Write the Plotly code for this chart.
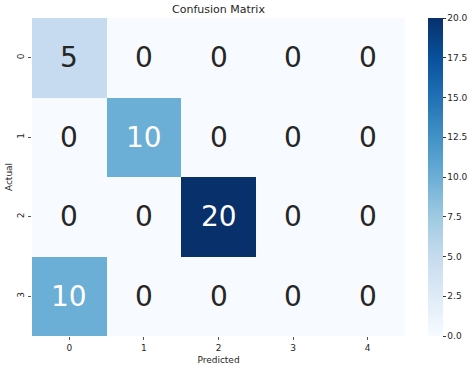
import plotly.graph_objects as go

actual_labels = ["0", "1", "2", "3"]
predicted_labels = ["0", "1", "2", "3", "4"]
matrix = [
    [5, 0, 0, 0, 0],
    [0, 10, 0, 0, 0],
    [0, 0, 20, 0, 0],
    [10, 0, 0, 0, 0],
]
cbar_ticks = [0.0, 2.5, 5.0, 7.5, 10.0, 12.5, 15.0, 17.5, 20.0]

blues = ["rgb(247,251,255)", "rgb(222,235,247)", "rgb(198,219,239)", "rgb(158,202,225)",
         "rgb(107,174,214)", "rgb(66,146,198)", "rgb(33,113,181)", "rgb(8,81,156)", "rgb(8,48,107)"]
cs = [[i / (len(blues) - 1), c] for i, c in enumerate(blues)]

xs = list(range(len(predicted_labels)))
ys = list(range(len(actual_labels)))

fig = go.Figure(go.Heatmap(
    z=matrix, x=xs, y=ys, zmin=0, zmax=20, colorscale=cs,
    colorbar=dict(
        x=1.0617, xanchor="left", y=0.5, yanchor="middle", len=1.0, lenmode="fraction",
        thickness=15, outlinewidth=0, xpad=0, ypad=0, tickvals=cbar_ticks,
        ticktext=[f"{v:.1f}" for v in cbar_ticks], ticks="outside", ticklen=3,
        tickcolor="#333", tickfont=dict(family="DejaVu Sans", size=9, color="#262626"),
    ),
    hoverinfo="skip",
))

for r, row in enumerate(matrix):
    for c, v in enumerate(row):
        fig.add_annotation(
            x=c, y=r, text=str(v), showarrow=False,
            font=dict(family="DejaVu Sans", size=28, color="white" if v >= 10 else "#262626"),
        )

fig.update_layout(
    width=474, height=368,
    margin=dict(l=32, r=69, t=18, b=32, autoexpand=False),
    paper_bgcolor="white", plot_bgcolor="white",
    title=dict(text="Confusion Matrix", x=(32 + 405) / 2 / 474, xanchor="center",
               y=1 - 9 / 368, yanchor="middle",
               font=dict(family="DejaVu Sans", size=11, color="#262626")),
    xaxis=dict(tickvals=xs, ticktext=predicted_labels, ticks="outside", ticklen=3,
               tickcolor="#555", showgrid=False, zeroline=False, showline=False,
               automargin=False,
               tickfont=dict(family="DejaVu Sans", size=9, color="#262626"),
               title=dict(text="Predicted", standoff=4,
                          font=dict(family="DejaVu Sans", size=9, color="#262626"))),
    yaxis=dict(tickvals=ys, ticktext=actual_labels, ticks="outside", ticklen=3,
               tickcolor="#555", autorange="reversed", showgrid=False, zeroline=False,
               showline=False, tickangle=-90, automargin=False,
               tickfont=dict(family="DejaVu Sans", size=9, color="#262626"),
               title=dict(text="Actual", standoff=2,
                          font=dict(family="DejaVu Sans", size=9, color="#262626"))),
)

fig.write_html("out.html", config={"displayModeBar": False},
               post_script="document.body.style.margin='0';")
